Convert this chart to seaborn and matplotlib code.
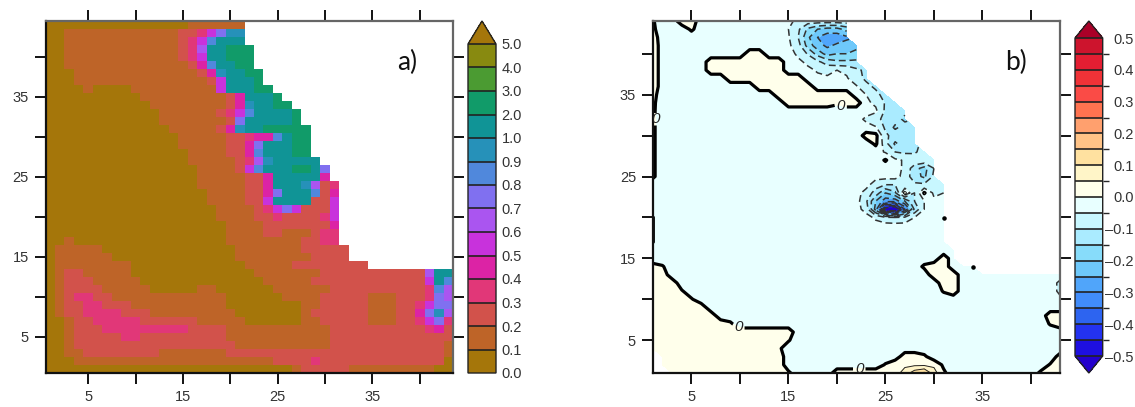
import numpy as np
import matplotlib
matplotlib.use("Agg")
import matplotlib.pyplot as plt
from matplotlib.cm import ScalarMappable
from matplotlib.colors import BoundaryNorm, ListedColormap
import seaborn as sns

# ---- data ----

# panel a: one run-length row per latitude, top row first, class*count
a_rows = [
    "0*15 1*6 .*22",
    "0*2 1*12 2*2 3 5 7 9*2 .*22",
    "0*2 1*12 2 3 5 8 A*3 .*22",
    "0*2 1*12 2 3 6 A*2 B*3 .*21",
    "0*2 1*12 2 3 5 A*2 B*3 .*21",
    "0*2 1*13 2 4 8 A*2 B*2 .*21",
    "0*3 1*13 2 4 9 A*2 B*2 .*20",
    "0*3 1*14 2 5 A*3 B .*20",
    "0*4 1 0*4 1*9 5 A*3 B*2 .*19",
    "0*10 1*9 2 4 A*3 B .*18",
    "0*11 1*8 2 4 9 A*2 B*2 .*17",
    "0*12 1*6 2 3 5 8 A*4 B .*16",
    "0*12 1*7 2 7 A*5 B .*16",
    "0*13 1*5 2 4 9 A*2 B*5 .*15",
    "0*14 1*5 2*2 3 4*2 8 A B*2 .*15",
    "0*14 1*5 2*2 4 7 A*3 B*2 .*15",
    "0*15 1*4 2*2 4 8 A*3 B*2 .*15",
    "0*15 1*5 2 3 6 9 A*5 .*14",
    "0*16 1*4 2 5 8 A*3 B*2 A 7 .*13",
    "0*16 1*5 2*2 4 A*5 4 .*13",
    "0*16 1*5 2*2 4 A*3 9 6 2 3 .*12",
    "0*17 1*4 2*2 4 7 A*3 8 2 4 .*12",
    "0*17 1*4 2*2 5 A*4 2*2 5 .*12",
    "0*18 1*4 2 3 5 7 5 2*3 5 .*12",
    "0*18 1*4 2*2 3 2*4 3 5 .*12",
    "0*19 1*4 2*7 4 .*12",
    "0*19 1*4 2*2 1*3 2 3*2 .*12",
    "0*2 1 0*16 1*8 2*2 3*2 .*12",
    "0 1*5 0*14 1*7 2*5 .*11",
    "0 1*6 0*13 1*8 2*4 .*11",
    "0 1*8 0*12 1*5 2*8 .*9",
    "0 1 2*2 1*5 0*13 1*7 2*11 6 A*2",
    "0 1 2*3 1*5 0*13 1*5 2*12 5 A 8",
    "0 1 2*4 1*5 0*5 1*2 0*6 1*6 2*10 3 8 6",
    "0 1 2 3*2 2*2 1*12 0*6 1*4 2*5 1*3 2*3 3 7 6",
    "0 1 2*2 3*2 2*3 1*10 0*8 1*2 2*5 1*3 2*2 3 5 7*2",
    "0 1 2*2 3*4 2*3 1*9 0*7 1 2*6 1*3 2*2 4 7 9 6",
    "0*2 1 2*2 3*5 2*6 1*5 0*6 1*2 2*5 1*3 2*2 3 5 7 3",
    "0*2 1 2*3 3*9 2*4 1*11 2*10 3 4 2",
    "0*2 1 2*5 3*2 2*9 1*11 2*13",
    "0*2 1 2*17 1*10 2*12 1",
    "0*2 1*2 2*8 1*7 2*23 1",
    "0*3 1*21 2*4 3 2*13 0",
    "0*26 1 2*5 1*9 0*2",
]
a_class_values = {"0": 0.05, "1": 0.15, "2": 0.25, "3": 0.35, "4": 0.45, "5": 0.55,
                  "6": 0.65, "7": 0.75, "8": 0.85, "9": 0.95, "A": 1.5, "B": 2.5,
                  ".": np.nan}
a_levels = [0.0, 0.1, 0.2, 0.3, 0.4, 0.5, 0.6, 0.7, 0.8, 0.9, 1.0, 2.0, 3.0, 4.0, 5.0]
a_colors = ["#a5760a", "#be6428", "#d2524b", "#e13778", "#dc23a5", "#c832dc", "#aa55f0",
            "#8070f0", "#5088dc", "#2691b9", "#109496", "#119b69", "#4b9b32", "#888a10"]
a_over = "#a5760a"

# panel b: values at grid nodes, y=44 first, value*count, x from 1 to 43
b_rows = [
    ".006 -.03*2 .03*2 -.03*10 -.07*6 nan*22",
    ".012 -.03*3 .01 -.03*9 -.05 -.09 -.16 -.2 -.22 -.22 -.18 nan*22",
    ".03 -.03*13 -.045 -.1 -.19 -.25 -.28 -.28 -.26 nan*22",
    ".04 -.03*13 -.04 -.08 -.17 -.23 -.26 -.24 -.23 -.22 nan*21",
    ".04 -.03*9 .03*2 -.03*3 -.06 -.105 -.17 -.22 -.2 -.2 -.18 nan*21",
    ".04 -.03*5 .03*8 -.03 -.04 -.06 -.09 -.12 -.14 -.14 -.14 nan*21",
    ".04 -.03*5 .03*8 -.03*2 -.04 -.055 -.07 -.05 -.06 -.09 -.11 nan*20",
    ".04 -.03*7 .03*8 -.03 -.04 -.04 -.04 -.045 -.08 -.11 nan*20",
    ".04 -.03*10 .03*6 -.03*4 -.045 -.085 -.11 nan*19",
    ".02 -.03*12 .03*8 -.03 -.05 -.085 -.12 nan*18",
    ".012 -.03*13 .03*5 .01 .03*2 -.04 -.06 -.105 -.12 nan*17",
    ".01 -.03*22 -.04 -.11 -.125 -.14 nan*16",
    ".01 -.03*21 -.06 -.09 -.11 -.13 -.16 nan*16",
    ".01 -.03*22 -.045 -.11 -.16 -.13 -.12 nan*15",
    ".01 -.03*21 .02 .015 -.09 -.12 -.12 -.12 nan*15",
    ".01 -.03*22 .01 -.08 -.16 -.12 -.12 nan*15",
    ".01 -.03*23 -.055 -.1 -.11 -.11 -.07 nan*14",
    ".01 -.03*23 .006 -.04 -.055 -.06 -.06 -.06 nan*13",
    ".01 -.03*25 -.06 -.13 -.17 -.1 nan*13",
    ".01 -.03*25 -.07 -.13 -.16 -.09 nan*13",
    "-.03*23 -.08 -.1 -.1 -.09 -.09 -.09 -.09 -.07 nan*12",
    "-.03*22 -.07 -.12 -.2 -.16 .004 -.1 .006 -.06 -.05 nan*12",
    "-.03*22 -.09 -.2 -.28 -.28 -.2 -.1 -.05 -.04 -.04 nan*12",
    "-.03*22 -.07 -.22 -.55 -.6 -.35 -.14 -.05 -.03 -.03 nan*12",
    ".002 -.03*22 -.06 -.09 -.1 -.09 -.05 -.03*3 nan*12",
    ".002 -.03*30 nan*12",
    ".002 -.03*30 nan*12",
    ".002 -.03*30 nan*12",
    "-.03*32 nan*11",
    "-.03*30 .03 -.03 nan*11",
    ".02 .005 -.03*26 .01 .03*2 -.03*3 nan*9",
    ".03*2 -.03*27 .03*3 -.03*11",
    ".03*3 -.03*27 .03*2 -.03*10 -.06",
    ".03*3 .005 -.03*26 .005 .03 -.03*10 -.06",
    ".03*4 .005 -.03*37 -.04",
    ".03*6 -.03*37",
    ".03*7 -.03*34 .03*2",
    ".03*8 .01 -.03*32 .005 .03",
    ".03*15 -.03*28",
    ".03*14 .005 -.03*28",
    ".03*13 .01 -.03*29",
    "nan .03*13 -.03*12 .03*2 .01 -.03*13 .02",
    "nan .03*13 -.03*10 .005 .04*5 -.01 -.03*10 .005 .03",
    "nan*2 .03*12 .01 -.03*4 .03*7 .07 .13 .16 .07 .01 -.03*9 .01 .03*2",
]
b_levels = [-0.5, -0.45, -0.4, -0.35, -0.3, -0.25, -0.2, -0.15, -0.1, -0.05, 0.0,
            0.05, 0.1, 0.15, 0.2, 0.25, 0.3, 0.35, 0.4, 0.45, 0.5]
b_colors = ["#1e0fe1", "#2332f0", "#2d64f0", "#418cfa", "#50a5fa", "#6ec8fa", "#87dcfa",
            "#aaebff", "#c8f7ff", "#e8ffff", "#ffffeb", "#fff5c8", "#ffe1a0", "#ffc387",
            "#ffa06e", "#ff7350", "#fa4b46", "#f03237", "#e41e32", "#cd142d"]
b_under = "#2300cd"
b_over = "#aa0028"
b_dot_x = [31, 34]
b_dot_y = [19.9, 13.9]
b_zero_label_x = [1.3, 20.4, 9.85, 22.3]
b_zero_label_y = [32.0, 33.7, 6.6, 1.6]

tick_values = [5, 10, 15, 20, 25, 30, 35, 40]
tick_labels = ["5", "", "15", "", "25", "", "35", ""]
a_cbar_labels = ["0.0", "0.1", "0.2", "0.3", "0.4", "0.5", "0.6", "0.7", "0.8", "0.9",
                 "1.0", "2.0", "3.0", "4.0", "5.0"]
b_cbar_ticks = [-0.5, -0.4, -0.3, -0.2, -0.1, 0.0, 0.1, 0.2, 0.3, 0.4, 0.5]
b_cbar_labels = ["\u20130.5", "\u20130.4", "\u20130.3", "\u20130.2", "\u20130.1",
                 "0.0", "0.1", "0.2", "0.3", "0.4", "0.5"]


def expand(row, lookup=float):
    out = []
    for tok in row.split():
        val, _, count = tok.rpartition("*") if "*" in tok else (tok, "", "1")
        out += [lookup(val)] * int(count)
    return out


a_grid = np.array([expand(r, a_class_values.__getitem__) for r in a_rows])
b_grid = np.array([expand(r) for r in b_rows])[::-1]

sns.set_theme(style="ticks")
plt.rcParams["font.family"] = ["Liberation Sans", "DejaVu Sans"]
plt.rcParams["font.size"] = 10.5

W, H = 1135, 407
fig = plt.figure(figsize=(W / 100, H / 100), dpi=100)


def add_px(left, top, right, bottom):
    return fig.add_axes([left / W, 1 - bottom / H, (right - left) / W, (bottom - top) / H])


def style_axes(ax, xpos, ypos):
    ax.set_xticks(xpos)
    ax.set_yticks(ypos)
    ax.set_xticklabels(tick_labels)
    ax.set_yticklabels(tick_labels, rotation=0)
    ax.set_xlabel("")
    ax.set_ylabel("")
    ax.tick_params(top=True, right=True, bottom=True, left=True, direction="out", length=8,
                   width=1.4, color="#111111", labelcolor="#333333", labelsize=10.5, pad=4)
    for name, spine in ax.spines.items():
        spine.set_visible(True)
        spine.set_linewidth(1.6)
        spine.set_color("#111111" if name in ("left", "bottom") else "#666666")


# ---- panel a ----
ax_a = add_px(45.5, 21, 453, 373)
cmap_a = ListedColormap(a_colors).with_extremes(over=a_over, bad="white")
norm_a = BoundaryNorm(a_levels, len(a_colors))
sns.heatmap(a_grid, ax=ax_a, cmap=cmap_a, norm=norm_a, mask=np.isnan(a_grid), cbar=False,
            xticklabels=False, yticklabels=False)
n_rows = a_grid.shape[0]
style_axes(ax_a, [t - 0.5 for t in tick_values], [n_rows - t + 0.5 for t in tick_values])

cax_a = add_px(468, 21, 496, 373)
cb_a = fig.colorbar(ScalarMappable(norm=norm_a, cmap=cmap_a), cax=cax_a, extend="max",
                    extendfrac=23 / 329, spacing="uniform", drawedges=True, ticks=a_levels)
cb_a.ax.set_yticklabels(a_cbar_labels)
cb_a.ax.tick_params(length=0, pad=4, labelsize=10.5, labelcolor="#333333")
cb_a.outline.set_linewidth(1.0)
cb_a.outline.set_edgecolor("#222222")
cb_a.dividers.set_linewidth(1.2)
cb_a.dividers.set_color("#222222")

# ---- panel b ----
ax_b = add_px(652.7, 21, 1060, 373)
x_nodes = np.arange(1, b_grid.shape[1] + 1)
y_nodes = np.arange(1, b_grid.shape[0] + 1)
field = np.ma.masked_invalid(b_grid)
cmap_b = ListedColormap(b_colors).with_extremes(under=b_under, over=b_over)
norm_b = BoundaryNorm(b_levels, len(b_colors))
ax_b.contourf(x_nodes, y_nodes, field, levels=b_levels, cmap=cmap_b, norm=norm_b, extend="both")

neg_levels = [v for v in b_levels if v < 0]
pos_levels = [v for v in b_levels if v > 0]
ax_b.contour(x_nodes, y_nodes, field, levels=neg_levels, colors="#333333", linewidths=1.1,
             linestyles=[(0, (4.5, 2.5))])
ax_b.contour(x_nodes, y_nodes, field, levels=pos_levels, colors="#222222", linewidths=0.7)
zero_lines = ax_b.contour(x_nodes, y_nodes, field, levels=[0.0], colors="black", linewidths=2.3)
zero_labels = ax_b.clabel(zero_lines, fmt="0", fontsize=11, inline=True, inline_spacing=2,
                          manual=list(zip(b_zero_label_x, b_zero_label_y)))
for lab in zero_labels:
    lab.set_style("italic")
    lab.set_rotation(0)
    lab.set_color("#222222")
ax_b.scatter(b_dot_x, b_dot_y, s=5, color="black", zorder=3)
ax_b.set_xlim(1, 43)
ax_b.set_ylim(1, 44)
style_axes(ax_b, tick_values, tick_values)

cax_b = add_px(1075, 21, 1102.7, 373)
cb_b = fig.colorbar(ScalarMappable(norm=norm_b, cmap=cmap_b), cax=cax_b, extend="both",
                    extendfrac=17 / 318, spacing="uniform", drawedges=True, ticks=b_cbar_ticks)
cb_b.ax.set_yticklabels(b_cbar_labels, ha="right")
cb_b.ax.tick_params(length=0, pad=22.5, labelsize=10.5, labelcolor="#333333")
cb_b.outline.set_linewidth(1.0)
cb_b.outline.set_edgecolor("#222222")
cb_b.dividers.set_linewidth(1.2)
cb_b.dividers.set_color("#222222")

fig.text(407 / W, 1 - 62 / H, "a)", family="Lato", fontsize=19, ha="center", va="center", color="#111111")
fig.text(1016 / W, 1 - 62 / H, "b)", family="Lato", fontsize=19, ha="center", va="center", color="#111111")

fig.savefig("out.png", dpi=100)
